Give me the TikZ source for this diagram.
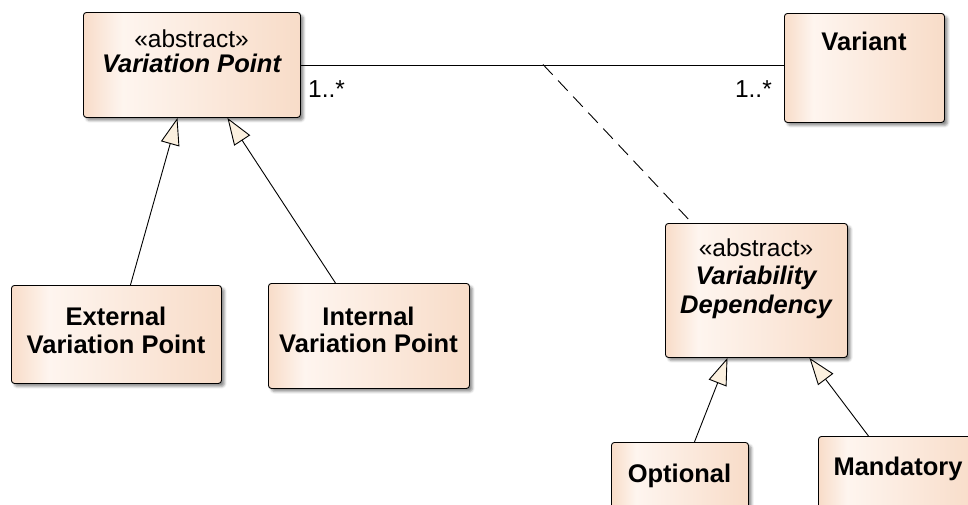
\documentclass[tikz,border=0pt]{standalone}
\usepackage{fontspec}
\setmainfont{Liberation Sans}
\usetikzlibrary{arrows.meta,shadows.blur}

\definecolor{boxpeach}{HTML}{F8DCC8}
\definecolor{boxlight}{HTML}{FEF5EF}
\definecolor{tipfill}{HTML}{FBF0DF}

% class fill: peach at the edges, a pale band near the left
\pgfdeclarehorizontalshading{umlfill}{100bp}{%
  color(0bp)=(boxpeach); color(25bp)=(boxpeach); color(34bp)=(boxlight);
  color(75bp)=(boxpeach); color(100bp)=(boxpeach)}

\tikzset{
  umlbox/.style={draw=black, line width=0.9pt, rounded corners=3pt,
    shading=umlfill, inner sep=0pt, anchor=north west,
    blur shadow={shadow xshift=3pt, shadow yshift=-3pt,
      shadow blur radius=2.5pt, shadow opacity=45}},
  txt/.style={anchor=base, inner sep=0pt, font=\fontsize{24.5}{28}\selectfont},
  bold/.style={txt, font=\fontsize{25.5}{28}\selectfont\bfseries},
  bolditalic/.style={txt, font=\fontsize{25.5}{28}\selectfont\bfseries\itshape},
  gen/.style={draw=black, line width=0.9pt,
    -{Triangle[length=27pt, width=19pt, fill=tipfill]}},
  assoc/.style={draw=black, line width=0.9pt},
  depline/.style={draw=black, line width=0.9pt, dash pattern=on 14pt off 8pt},
}

\begin{document}
\begin{tikzpicture}[x=1pt, y=-1pt]
\useasboundingbox (0,0) rectangle (968,504);

% classes
\node[umlbox, minimum width=217pt, minimum height=105pt] (vp) at (83,12) {};
\node[umlbox, minimum width=160pt, minimum height=109pt] (variant) at (784,13) {};
\node[umlbox, minimum width=210pt, minimum height=98pt] (ext) at (11,285) {};
\node[umlbox, minimum width=201pt, minimum height=105pt] (int) at (268,283) {};
\node[umlbox, minimum width=182pt, minimum height=134pt] (vd) at (665,223) {};
\node[umlbox, minimum width=137pt, minimum height=80pt] (opt) at (611,442) {};
\node[umlbox, minimum width=160pt, minimum height=86pt] (man) at (818,436) {};

% class names
\node[txt] (vpst) at (191.5,47) {«abstract»};
\node[bolditalic] (vpname) at (191.5,72) {Variation Point};
\node[bold] (variantname) at (864,50) {Variant};
\node[bold] (extname1) at (116,325) {External};
\node[bold] (extname2) at (116,353) {Variation Point};
\node[bold] (intname1) at (368.5,325) {Internal};
\node[bold] (intname2) at (368.5,352) {Variation Point};
\node[txt] (vdst) at (756,256) {«abstract»};
\node[bolditalic] (vdname1) at (756,284) {Variability};
\node[bolditalic] (vdname2) at (756,313) {Dependency};
\node[bold] (optname) at (679.5,482) {Optional};
\node[bold] (manname) at (898,475) {Mandatory};

% association with its multiplicities
\draw[assoc] (vp.east) -- (vp.east -| variant.west);
\node[txt, anchor=base west] (multl) at (308,97) {1..*};
\node[txt, anchor=base east] (multr) at (772,97) {1..*};

% association class link
\coordinate (assocpt) at (543,64.5);
\coordinate (vdtop) at (692,223);
\draw[depline] (assocpt) -- (vdtop);

% generalizations
\draw[gen] ([xshift=14pt]ext.north) -- ([xshift=-14.5pt]vp.south);
\draw[gen] ([xshift=-33.5pt]int.north) -- ([xshift=35.5pt]vp.south);
\draw[gen] ([xshift=14.5pt]opt.north) -- ([xshift=-29pt]vd.south);
\draw[gen] ([xshift=-30pt]man.north) -- ([xshift=53pt]vd.south);
\end{tikzpicture}
\end{document}
